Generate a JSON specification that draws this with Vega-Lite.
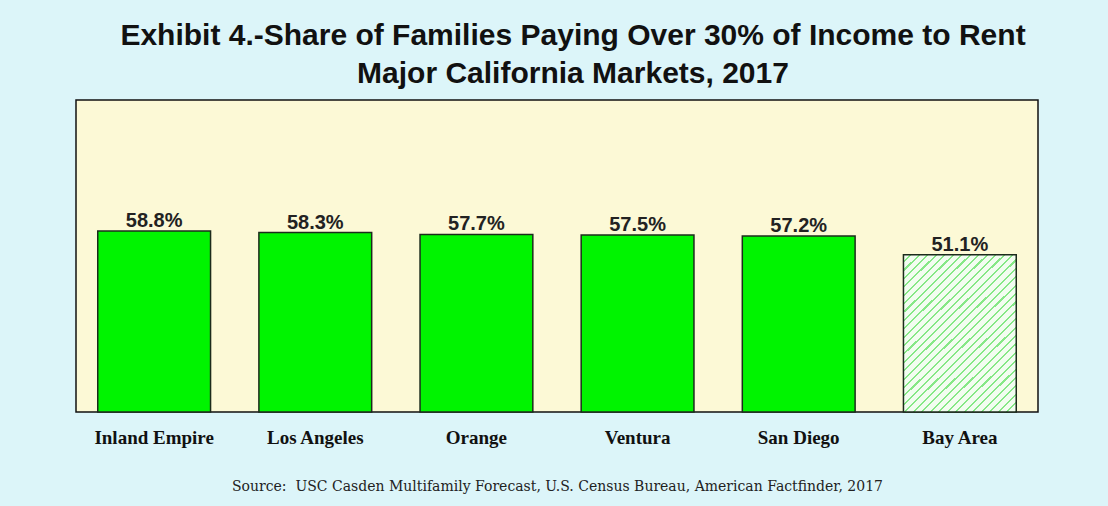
{
  "$schema": "https://vega.github.io/schema/vega-lite/v6.json",
  "width": 962,
  "height": 312,
  "autosize": {"type": "none"},
  "padding": {"left": 76, "top": 100, "right": 70, "bottom": 94},
  "background": "#dcf5f9",
  "title": {
    "text": ["Exhibit 4.-Share of Families Paying Over 30% of Income to Rent", "Major California Markets, 2017"],
    "font": "Liberation Sans",
    "fontSize": 30,
    "fontWeight": "bold",
    "color": "#111111",
    "lineHeight": 38,
    "dx": 16,
    "offset": 11,
    "anchor": "middle"
  },
  "config": {
    "view": {"fill": "#fcf9d6", "stroke": "#111111", "strokeWidth": 1.5}
  },
  "data": {
    "values": [
      {"market": "Inland Empire", "share": 58.8},
      {"market": "Los Angeles", "share": 58.3},
      {"market": "Orange", "share": 57.7},
      {"market": "Ventura", "share": 57.5},
      {"market": "San Diego", "share": 57.2},
      {"market": "Bay Area", "share": 51.1}
    ]
  },
  "encoding": {
    "x": {
      "field": "market",
      "type": "nominal",
      "sort": null,
      "scale": {"paddingInner": 0.3, "paddingOuter": 0.135},
      "axis": {
        "title": "Source:\u00a0 USC Casden Multifamily Forecast, U.S. Census Bureau, American Factfinder, 2017",
        "titleFont": "DejaVu Serif",
        "titleFontSize": 14,
        "titleFontWeight": "normal",
        "titleColor": "#222222",
        "titlePadding": 32,
        "labelFont": "Liberation Serif",
        "labelFontSize": 19,
        "labelFontWeight": "bold",
        "labelColor": "#111111",
        "labelAngle": 0,
        "labelPadding": 16,
        "ticks": false,
        "domain": false
      }
    },
    "y": {
      "field": "share",
      "type": "quantitative",
      "scale": {"domain": [0, 101.4], "nice": false},
      "axis": null
    }
  },
  "layer": [
    {
      "transform": [{"filter": "datum.market !== 'Bay Area'"}],
      "mark": {"type": "bar", "fill": "#00f400", "stroke": "#1c2b1c", "strokeWidth": 1.5}
    },
    {
      "transform": [{"filter": "datum.market === 'Bay Area'"}],
      "mark": {
        "type": "bar",
        "stroke": "#1c2b1c",
        "strokeWidth": 1.5,
        "fill": {
          "gradient": "linear",
          "x1": 0, "y1": 0, "x2": 0.806, "y2": 1.137,
          "stops": [
            {"offset": 0.0, "color": "#f2fdf0"}, {"offset": 0.0234, "color": "#f2fdf0"}, {"offset": 0.0234, "color": "#86e886"}, {"offset": 0.03125, "color": "#86e886"},
            {"offset": 0.03125, "color": "#f2fdf0"}, {"offset": 0.0547, "color": "#f2fdf0"}, {"offset": 0.0547, "color": "#86e886"}, {"offset": 0.0625, "color": "#86e886"},
            {"offset": 0.0625, "color": "#f2fdf0"}, {"offset": 0.0859, "color": "#f2fdf0"}, {"offset": 0.0859, "color": "#86e886"}, {"offset": 0.09375, "color": "#86e886"},
            {"offset": 0.09375, "color": "#f2fdf0"}, {"offset": 0.1172, "color": "#f2fdf0"}, {"offset": 0.1172, "color": "#86e886"}, {"offset": 0.125, "color": "#86e886"},
            {"offset": 0.125, "color": "#f2fdf0"}, {"offset": 0.1484, "color": "#f2fdf0"}, {"offset": 0.1484, "color": "#86e886"}, {"offset": 0.15625, "color": "#86e886"},
            {"offset": 0.15625, "color": "#f2fdf0"}, {"offset": 0.1797, "color": "#f2fdf0"}, {"offset": 0.1797, "color": "#86e886"}, {"offset": 0.1875, "color": "#86e886"},
            {"offset": 0.1875, "color": "#f2fdf0"}, {"offset": 0.2109, "color": "#f2fdf0"}, {"offset": 0.2109, "color": "#86e886"}, {"offset": 0.21875, "color": "#86e886"},
            {"offset": 0.21875, "color": "#f2fdf0"}, {"offset": 0.2422, "color": "#f2fdf0"}, {"offset": 0.2422, "color": "#86e886"}, {"offset": 0.25, "color": "#86e886"},
            {"offset": 0.25, "color": "#f2fdf0"}, {"offset": 0.2734, "color": "#f2fdf0"}, {"offset": 0.2734, "color": "#86e886"}, {"offset": 0.28125, "color": "#86e886"},
            {"offset": 0.28125, "color": "#f2fdf0"}, {"offset": 0.3047, "color": "#f2fdf0"}, {"offset": 0.3047, "color": "#86e886"}, {"offset": 0.3125, "color": "#86e886"},
            {"offset": 0.3125, "color": "#f2fdf0"}, {"offset": 0.3359, "color": "#f2fdf0"}, {"offset": 0.3359, "color": "#86e886"}, {"offset": 0.34375, "color": "#86e886"},
            {"offset": 0.34375, "color": "#f2fdf0"}, {"offset": 0.3672, "color": "#f2fdf0"}, {"offset": 0.3672, "color": "#86e886"}, {"offset": 0.375, "color": "#86e886"},
            {"offset": 0.375, "color": "#f2fdf0"}, {"offset": 0.3984, "color": "#f2fdf0"}, {"offset": 0.3984, "color": "#86e886"}, {"offset": 0.40625, "color": "#86e886"},
            {"offset": 0.40625, "color": "#f2fdf0"}, {"offset": 0.4297, "color": "#f2fdf0"}, {"offset": 0.4297, "color": "#86e886"}, {"offset": 0.4375, "color": "#86e886"},
            {"offset": 0.4375, "color": "#f2fdf0"}, {"offset": 0.4609, "color": "#f2fdf0"}, {"offset": 0.4609, "color": "#86e886"}, {"offset": 0.46875, "color": "#86e886"},
            {"offset": 0.46875, "color": "#f2fdf0"}, {"offset": 0.4922, "color": "#f2fdf0"}, {"offset": 0.4922, "color": "#86e886"}, {"offset": 0.5, "color": "#86e886"},
            {"offset": 0.5, "color": "#f2fdf0"}, {"offset": 0.5234, "color": "#f2fdf0"}, {"offset": 0.5234, "color": "#86e886"}, {"offset": 0.53125, "color": "#86e886"},
            {"offset": 0.53125, "color": "#f2fdf0"}, {"offset": 0.5547, "color": "#f2fdf0"}, {"offset": 0.5547, "color": "#86e886"}, {"offset": 0.5625, "color": "#86e886"},
            {"offset": 0.5625, "color": "#f2fdf0"}, {"offset": 0.5859, "color": "#f2fdf0"}, {"offset": 0.5859, "color": "#86e886"}, {"offset": 0.59375, "color": "#86e886"},
            {"offset": 0.59375, "color": "#f2fdf0"}, {"offset": 0.6172, "color": "#f2fdf0"}, {"offset": 0.6172, "color": "#86e886"}, {"offset": 0.625, "color": "#86e886"},
            {"offset": 0.625, "color": "#f2fdf0"}, {"offset": 0.6484, "color": "#f2fdf0"}, {"offset": 0.6484, "color": "#86e886"}, {"offset": 0.65625, "color": "#86e886"},
            {"offset": 0.65625, "color": "#f2fdf0"}, {"offset": 0.6797, "color": "#f2fdf0"}, {"offset": 0.6797, "color": "#86e886"}, {"offset": 0.6875, "color": "#86e886"},
            {"offset": 0.6875, "color": "#f2fdf0"}, {"offset": 0.7109, "color": "#f2fdf0"}, {"offset": 0.7109, "color": "#86e886"}, {"offset": 0.71875, "color": "#86e886"},
            {"offset": 0.71875, "color": "#f2fdf0"}, {"offset": 0.7422, "color": "#f2fdf0"}, {"offset": 0.7422, "color": "#86e886"}, {"offset": 0.75, "color": "#86e886"},
            {"offset": 0.75, "color": "#f2fdf0"}, {"offset": 0.7734, "color": "#f2fdf0"}, {"offset": 0.7734, "color": "#86e886"}, {"offset": 0.78125, "color": "#86e886"},
            {"offset": 0.78125, "color": "#f2fdf0"}, {"offset": 0.8047, "color": "#f2fdf0"}, {"offset": 0.8047, "color": "#86e886"}, {"offset": 0.8125, "color": "#86e886"},
            {"offset": 0.8125, "color": "#f2fdf0"}, {"offset": 0.8359, "color": "#f2fdf0"}, {"offset": 0.8359, "color": "#86e886"}, {"offset": 0.84375, "color": "#86e886"},
            {"offset": 0.84375, "color": "#f2fdf0"}, {"offset": 0.8672, "color": "#f2fdf0"}, {"offset": 0.8672, "color": "#86e886"}, {"offset": 0.875, "color": "#86e886"},
            {"offset": 0.875, "color": "#f2fdf0"}, {"offset": 0.8984, "color": "#f2fdf0"}, {"offset": 0.8984, "color": "#86e886"}, {"offset": 0.90625, "color": "#86e886"},
            {"offset": 0.90625, "color": "#f2fdf0"}, {"offset": 0.9297, "color": "#f2fdf0"}, {"offset": 0.9297, "color": "#86e886"}, {"offset": 0.9375, "color": "#86e886"},
            {"offset": 0.9375, "color": "#f2fdf0"}, {"offset": 0.9609, "color": "#f2fdf0"}, {"offset": 0.9609, "color": "#86e886"}, {"offset": 0.96875, "color": "#86e886"},
            {"offset": 0.96875, "color": "#f2fdf0"}, {"offset": 0.9922, "color": "#f2fdf0"}, {"offset": 0.9922, "color": "#86e886"}, {"offset": 1.0, "color": "#86e886"}
          ]
        }
      }
    },
    {
      "transform": [{"calculate": "format(datum.share, '.1f') + '%'", "as": "label"}],
      "mark": {"type": "text", "baseline": "alphabetic", "dy": -4, "font": "Liberation Sans", "fontSize": 20, "fontWeight": "bold", "color": "#222222"},
      "encoding": {"text": {"field": "label", "type": "nominal"}}
    }
  ]
}
